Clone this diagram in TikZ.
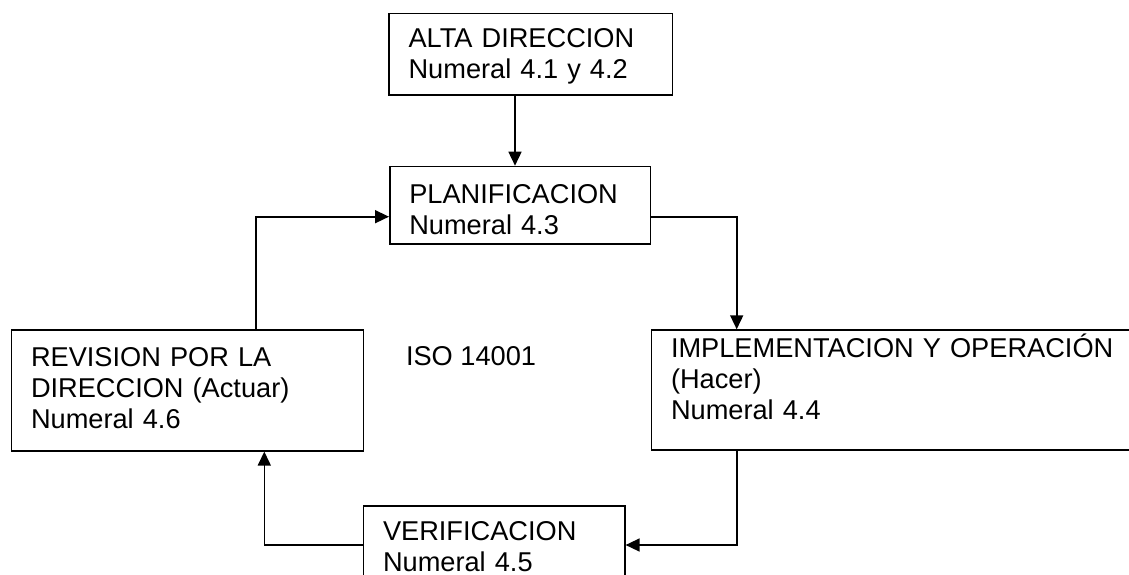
\documentclass[tikz,border=0pt]{standalone}
\usepackage{fontspec}
\setmainfont{Liberation Sans}
\usetikzlibrary{arrows.meta}
\begin{document}
\begin{tikzpicture}[x=1pt,y=-1pt,
  every node/.style={font=\fontsize{27.2}{31}\selectfont},
  box/.style={draw, line width=1.6pt, rectangle, anchor=north west, inner ysep=0pt,
    inner xsep=19.5pt, align=left},
  arr/.style={draw, line width=1.6pt, -{Triangle[length=14pt,width=13pt]}},
  lbl/.style={inner sep=0pt, anchor=base west}]
\useasboundingbox (0,0) rectangle (1129,575);
% boxes
\node[box, text width=244.4pt, text height=34pt, text depth=47.6pt] (alta) at (388.3,12.7)
  {ALTA DIRECCION\\Numeral 4.1 y 4.2};
\node[box, text width=221.7pt, text height=37.3pt, text depth=40pt] (planif) at (389,165.7)
  {PLANIFICACION\\Numeral 4.3};
\node[box, text width=313pt, text height=36.4pt, text depth=84.3pt] (rev) at (10.7,329.3)
  {REVISION POR LA\\DIRECCION (Actuar)\\Numeral 4.6};
\node[box, text width=460pt, text height=27.4pt, text depth=92.6pt] (impl) at (650.7,329.3)
  {IMPLEMENTACION Y OPERACIÓN\\(Hacer)\\Numeral 4.4};
\node[box, text width=222.3pt, text height=35pt, text depth=70pt] (verif) at (362.7,505)
  {VERIFICACION\\Numeral 4.5};
\node[lbl] (iso) at (405.8,365) {ISO 14001};
% routing coordinates
\coordinate (ca) at (515,0);
\coordinate (cb) at (736.7,216.7);
\coordinate (cc) at (736.7,545);
\coordinate (cd) at (264.3,545);
\coordinate (ce) at (255.7,216.7);
% connectors
\draw[arr] (alta.south -| ca) -- (planif.north -| ca);
\draw[arr] (planif.east |- cb) -| (impl.north -| cb);
\draw[arr] (impl.south -| cc) |- (verif.east |- cc);
\draw[arr] (verif.west |- cd) -| (rev.south -| cd);
\draw[arr] (rev.north -| ce) |- (planif.west |- ce);
\end{tikzpicture}
\end{document}
